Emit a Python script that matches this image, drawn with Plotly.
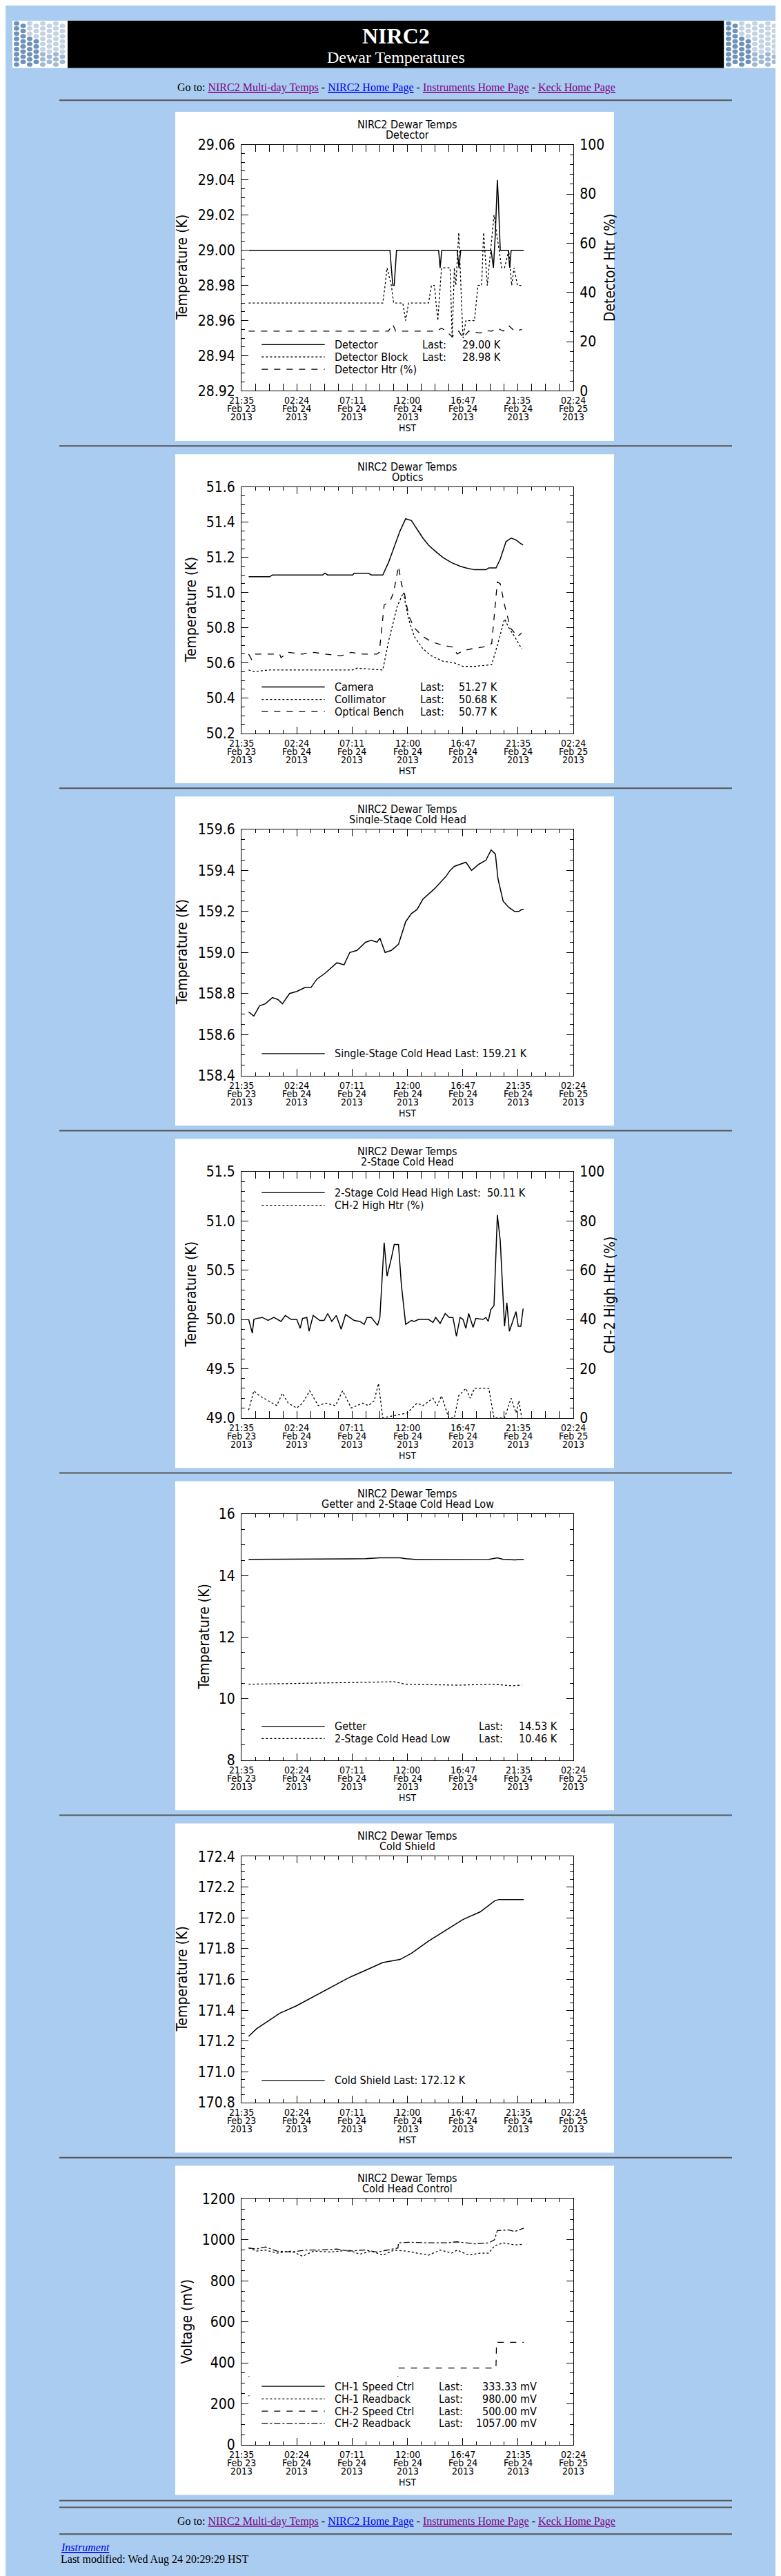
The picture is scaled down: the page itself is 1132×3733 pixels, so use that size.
import plotly.graph_objects as go

W, H = 1132, 3733
BG = "#a9ccf0"
FONT = "Liberation Sans Narrow, DejaVu Sans Condensed, sans-serif"
SERIF = "Liberation Serif, DejaVu Serif, serif"

# ---- time axis (hours since 21:35 Feb 23 2013 HST) ----
x_ticks = [0, 4.7833, 9.5667, 14.35, 19.1333, 23.9167, 28.7]
x_lab1 = ["21:35", "02:24", "07:11", "12:00", "16:47", "21:35", "02:24"]
x_lab2 = ["Feb 23", "Feb 24", "Feb 24", "Feb 24", "Feb 24", "Feb 24", "Feb 25"]
x_lab3 = ["2013"] * 7

# ---- Panel 1: Detector ----
t_det = [0.62,12.59,12.84,12.96,13.09,13.21,13.33,13.41,17.05,17.18,17.32,18.66,18.81,18.96,21.59,21.79,21.96,22.06,22.13,22.21,22.38,23.07,23.20,23.32,24.41]
v_det = [29.00,29.00,29.00,28.99,28.98,28.98,28.99,29.00,29.00,28.99,29.00,29.00,28.99,29.00,29.00,28.99,29.01,29.03,29.04,29.03,29.00,29.00,28.99,29.00,29.00]
t_blk = [0.62,12.22,12.42,12.59,12.96,13.16,13.95,14.20,14.45,16.18,16.43,16.68,16.98,17.30,18.04,18.22,18.41,18.54,18.79,19.16,19.41,20.15,20.45,20.77,20.94,21.26,21.84,22.26,22.50,22.75,23.12,23.37,23.57,23.87,24.24]
v_blk = [28.97,28.97,28.98,28.99,28.98,28.97,28.97,28.96,28.97,28.97,28.98,28.98,28.96,28.99,28.99,28.95,28.99,28.98,29.01,28.95,28.96,28.96,28.98,28.98,29.01,28.98,29.02,29.00,28.99,28.99,29.00,28.98,28.99,28.98,28.98]
t_dhtr = [0.62,12.71,13.09,13.33,16.93,17.30,17.67,18.22,18.79,19.16,19.65,20.65,21.14,21.64,22.13,22.63,23.12,23.62,24.24]
v_dhtr = [24.3,24.3,27,24.3,24.3,25.5,24.3,22,24.3,21.5,24.3,23.5,24.5,24.3,25.5,24.3,26.5,24.3,25]

# ---- Panel 2: Optics ----
t_cam = [0.62,2.43,2.68,7.01,7.21,7.46,9.62,9.74,10.98,11.23,12.22,12.71,13.21,13.71,14.20,14.70,15.19,15.69,16.18,16.68,17.42,18.17,18.91,19.41,20.15,21.14,21.39,22.01,22.38,22.88,23.32,23.74,24.12,24.36]
v_cam = [51.09,51.09,51.10,51.10,51.11,51.10,51.10,51.11,51.11,51.10,51.10,51.17,51.26,51.35,51.42,51.41,51.36,51.31,51.27,51.24,51.20,51.17,51.15,51.14,51.13,51.13,51.14,51.14,51.19,51.29,51.31,51.30,51.28,51.27]
t_col = [0.62,1.07,2.43,4.78,7.26,9.62,9.99,12.22,12.71,13.46,14.00,14.45,14.94,15.69,16.43,17.42,18.41,19.16,20.15,21.64,22.13,22.75,23.12,23.62,24.24]
v_col = [50.56,50.55,50.56,50.56,50.56,50.56,50.57,50.56,50.72,50.92,51.00,50.85,50.75,50.68,50.64,50.61,50.60,50.58,50.58,50.59,50.70,50.85,50.80,50.75,50.68]
t_ben = [0.62,0.87,1.19,3.30,3.42,4.04,5.28,6.27,7.26,8.62,9.49,10.48,11.72,11.92,12.34,12.84,13.16,13.58,13.83,14.08,14.45,14.94,15.69,16.43,17.42,18.29,18.66,19.16,19.90,20.89,21.64,22.13,22.38,22.75,23.25,23.87,24.24]
v_ben = [50.65,50.62,50.65,50.65,50.63,50.66,50.65,50.66,50.65,50.64,50.66,50.65,50.65,50.66,50.93,50.95,51.00,51.15,51.05,51.00,50.87,50.80,50.75,50.72,50.70,50.69,50.65,50.67,50.68,50.69,50.71,51.06,51.05,50.93,50.80,50.75,50.77]

# ---- Panel 3: Single-stage cold head ----
t_ss = [0.62,1.07,1.56,2.06,2.68,3.17,3.54,4.16,4.78,5.53,6.02,6.52,7.26,8.25,8.87,9.37,9.99,10.73,11.23,11.72,11.97,12.42,12.96,13.58,14.20,14.70,15.19,15.69,16.68,17.18,17.67,18.04,18.41,19.41,19.90,20.52,21.14,21.59,21.96,22.18,22.63,23.12,23.62,23.99,24.24,24.41]
v_ss = [158.71,158.69,158.74,158.75,158.78,158.77,158.75,158.80,158.81,158.83,158.83,158.87,158.90,158.95,158.94,159.00,159.01,159.05,159.06,159.05,159.07,159.00,159.01,159.04,159.15,159.19,159.21,159.26,159.31,159.34,159.37,159.40,159.42,159.44,159.40,159.43,159.45,159.50,159.48,159.36,159.25,159.22,159.20,159.20,159.21,159.21]

# ---- Panel 4: 2-stage cold head ----
t_2h = [0.62,0.94,1.07,1.31,1.81,2.30,2.80,3.42,3.79,4.29,4.78,5.08,5.28,5.65,5.85,6.20,6.77,7.14,7.46,7.81,8.20,8.62,9.00,9.37,9.74,10.24,10.61,10.86,11.23,11.77,11.97,12.34,12.59,12.96,13.21,13.58,13.83,14.20,14.70,14.94,15.32,16.18,16.56,16.80,17.18,17.62,17.97,18.29,18.59,18.91,19.16,19.41,19.65,20.03,20.27,20.89,21.14,21.34,21.56,21.84,22.13,22.38,22.75,22.95,23.17,23.74,23.94,24.16,24.36]
v_2h = [50.00,49.86,50.00,50.01,50.02,49.99,50.02,49.98,50.04,50.00,50.00,49.91,50.01,50.02,49.88,50.04,49.99,49.99,50.06,49.98,50.04,49.90,50.05,50.02,49.99,49.98,49.95,50.02,50.02,49.94,50.02,50.78,50.44,50.62,50.76,50.76,50.35,49.95,49.99,49.98,50.00,50.00,49.97,50.02,49.96,50.06,50.02,50.02,49.83,50.02,50.00,49.91,50.06,49.92,50.01,50.00,50.02,49.98,50.10,50.14,51.06,50.80,49.93,50.17,49.88,50.08,49.93,49.93,50.11]
t_2htr = [0.62,1.07,1.56,2.30,3.05,3.54,4.04,4.78,5.28,5.90,6.64,7.26,8.13,8.75,9.49,10.48,10.98,11.48,11.85,12.22,14.33,15.19,15.69,16.56,16.93,17.30,17.92,18.41,18.79,19.41,19.78,20.15,21.39,21.84,22.75,23.32,23.74,23.99,24.24]
v_2htr = [3.2,11,9,7,5,10,6,4,6,11,5,6,5,11,4,6,5,7,14,0,2,6,5,8,5,9,0,0,9,12,8,12,12,0,0,8,2,7,0]

# ---- Panel 5: Getter and 2-stage low ----
t_get = [0.62,6.27,10.73,11.97,13.71,14.20,15.19,21.39,22.13,22.63,23.62,24.41]
v_get = [14.53,14.54,14.55,14.58,14.58,14.55,14.52,14.53,14.58,14.53,14.51,14.53]
t_low = [0.62,5.28,8.75,13.21,14.20,18.66,21.88,23.37,24.24]
v_low = [10.47,10.50,10.51,10.55,10.47,10.44,10.47,10.42,10.44]

# ---- Panel 6: Cold shield ----
t_cs = [0.62,1.31,2.30,3.30,4.78,6.27,7.76,9.24,10.73,12.22,13.71,14.70,16.18,17.67,19.16,20.65,21.88,22.26,24.41]
v_cs = [171.23,171.28,171.33,171.38,171.43,171.49,171.55,171.61,171.66,171.71,171.73,171.77,171.85,171.92,171.99,172.04,172.11,172.12,172.12]

# ---- Panel 7: Cold head control ----
t_c1s = [0.62,0.68,None,0.62,0.68,None,13.50,13.56]
v_c1s = [333,333,None,240,240,None,333,333]
t_c1r = [0.62,1.31,2.06,3.05,4.29,5.28,6.27,7.76,9.24,10.24,11.23,12.22,13.21,14.20,15.19,16.18,17.18,18.17,18.66,19.65,20.65,21.39,21.88,22.63,23.62,24.41]
v_c1r = [960,945,950,935,945,920,945,940,950,930,945,925,950,945,935,925,950,935,950,925,935,935,970,985,975,978]
t_c2s = [13.58,22.01,22.06,24.41]
v_c2s = [375,375,500,500]
t_c2r = [0.62,1.31,2.06,3.05,4.29,5.53,6.77,8.25,9.24,10.73,11.72,12.71,13.53,13.58,14.45,16.18,17.67,18.66,20.15,21.39,21.88,22.13,23.12,23.62,24.41]
v_c2r = [960,955,965,945,940,950,950,955,945,950,940,950,960,985,988,985,985,990,980,985,1000,1045,1048,1040,1057]

panels = [
    dict(sub="Detector", yr=[28.92, 29.06], dt=0.02, mdt=0.005, fmt=".2f", ytitle="Temperature (K)", ytx=256,
         y2=dict(r=[0, 100], dt=20, mdt=4, title="Detector Htr (%)"),
         series=[(t_det, v_det, "solid", 1), (t_blk, v_blk, "dot", 1), (t_dhtr, v_dhtr, "dash", 2)],
         legend=[("solid", "Detector", "Last:", "29.00 K", 0.188), ("dot", "Detector Block", "Last:", "28.98 K", 0.138),
                 ("dash", "Detector Htr (%)", "", "", 0.088)], lastx=0.541, valx=0.662),
    dict(sub="Optics", yr=[50.2, 51.6], dt=0.2, mdt=0.05, fmt=".1f", ytitle="Temperature (K)", ytx=269,
         series=[(t_cam, v_cam, "solid", 1), (t_col, v_col, "dot", 1), (t_ben, v_ben, "dash", 1)],
         legend=[("solid", "Camera", "Last:", "51.27 K", 0.188), ("dot", "Collimator", "Last:", "50.68 K", 0.137),
                 ("dash", "Optical Bench", "Last:", "50.77 K", 0.088)], lastx=0.535, valx=0.650),
    dict(sub="Single-Stage Cold Head", yr=[158.4, 159.6], dt=0.2, mdt=0.05, fmt=".1f", ytitle="Temperature (K)", ytx=256,
         series=[(t_ss, v_ss, "solid", 1)],
         legend=[("solid", "Single-Stage Cold Head Last: 159.21 K", "", "", 0.089)], lastx=0.54, valx=0.66),
    dict(sub="2-Stage Cold Head", yr=[49.0, 51.5], dt=0.5, mdt=0.1, fmt=".1f", ytitle="Temperature (K)", ytx=269,
         y2=dict(r=[0, 100], dt=20, mdt=4, title="CH-2 High Htr (%)"),
         series=[(t_2h, v_2h, "solid", 1), (t_2htr, v_2htr, "dot", 2)],
         legend=[("solid", "2-Stage Cold Head High Last:  50.11 K", "", "", 0.915), ("dot", "CH-2 High Htr (%)", "", "", 0.864)],
         lastx=0.54, valx=0.66),
    dict(sub="Getter and 2-Stage Cold Head Low", yr=[8, 16], dt=2, mdt=0.5, fmt="d", ytitle="Temperature (K)", ytx=288,
         series=[(t_get, v_get, "solid", 1), (t_low, v_low, "dot", 1)],
         legend=[("solid", "Getter", "Last:", "14.53 K", 0.138), ("dot", "2-Stage Cold Head Low", "Last:", "10.46 K", 0.088)],
         lastx=0.711, valx=0.832),
    dict(sub="Cold Shield", yr=[170.8, 172.4], dt=0.2, mdt=0.05, fmt=".1f", ytitle="Temperature (K)", ytx=256,
         series=[(t_cs, v_cs, "solid", 1)],
         legend=[("solid", "Cold Shield Last: 172.12 K", "", "", 0.09)], lastx=0.54, valx=0.66),
    dict(sub="Cold Head Control", yr=[0, 1200], dt=200, mdt=50, fmt="d", ytitle="Voltage (mV)", ytx=263,
         series=[(t_c1s, v_c1s, "solid", 1), (t_c1r, v_c1r, "dot", 1), (t_c2s, v_c2s, "dash", 1), (t_c2r, v_c2r, "dashdot", 1)],
         legend=[("solid", "CH-1 Speed Ctrl", "Last:", "333.33 mV", 0.238), ("dot", "CH-1 Readback", "Last:", "980.00 mV", 0.187),
                 ("dash", "CH-2 Speed Ctrl", "Last:", "500.00 mV", 0.137), ("dashdot", "CH-2 Readback", "Last:", "1057.00 mV", 0.087)],
         lastx=0.591, valx=0.895, valright=True),
]

fig = go.Figure()
shapes, annos = [], []
lay = dict(width=W, height=H, margin=dict(l=0, r=0, t=0, b=0), paper_bgcolor=BG, plot_bgcolor="white",
           showlegend=False, font=dict(family=FONT, color="black"))

def py(px):
    return 1 - px / H

XL, XR = 342, 823
PTOP0, PSTEP = 143, 499.3
LF = 16
extra = 8
for i, p in enumerate(panels):
    n = i + 1
    top = PTOP0 + PSTEP * i
    shapes.append(dict(type="rect", xref="paper", yref="paper", x0=246 / W, x1=882 / W, y0=py(top + 480), y1=py(top),
                       fillcolor="white", line=dict(width=0), layer="below"))
    if i > 0:
        shapes.append(dict(type="line", xref="paper", yref="paper", x0=78 / W, x1=1053 / W, y0=py(top - 12), y1=py(top - 12),
                           line=dict(color="#555", width=2)))
    xa = "xaxis" if n == 1 else f"xaxis{n}"
    ya = "yaxis" if n == 1 else f"yaxis{n}"
    xr = "x" if n == 1 else f"x{n}"
    yr = "y" if n == 1 else f"y{n}"
    has2 = "y2" in p
    lay[xa] = dict(domain=[XL / W, XR / W], range=[0, 28.7], anchor=yr, tickvals=x_ticks, showticklabels=False,
                   ticks="inside", ticklen=10, tickcolor="black", showgrid=False, zeroline=False,
                   showline=True, linecolor="black", linewidth=1, mirror="allticks",
                   minor=dict(dtick=1.19583, tick0=0, ticks="inside", ticklen=5, tickcolor="black", showgrid=False))
    lay[ya] = dict(domain=[py(top + 407), py(top + 48)], range=p["yr"], anchor=xr, dtick=p["dt"], tick0=p["yr"][0],
                   tickformat=p["fmt"], ticks="inside", ticklen=10, tickcolor="black", showgrid=False, zeroline=False,
                   showline=True, linecolor="black", linewidth=1, mirror=False if has2 else "allticks",
                   tickfont=dict(size=21, family=FONT), ticklabelstandoff=4,
                   minor=dict(dtick=p["mdt"], tick0=p["yr"][0], ticks="inside", ticklen=5, tickcolor="black", showgrid=False))
    y2r = None
    if has2:
        k = extra
        extra += 1
        y2r = f"y{k}"
        lay[f"yaxis{k}"] = dict(overlaying=yr, side="right", anchor=xr, range=p["y2"]["r"], dtick=p["y2"]["dt"], tick0=0,
                               tickformat="d", ticks="inside", ticklen=10, tickcolor="black", showgrid=False, zeroline=False,
                               showline=True, linecolor="black", linewidth=1, tickfont=dict(size=21, family=FONT),
                               ticklabelstandoff=4,
                               minor=dict(dtick=p["y2"]["mdt"], tick0=0, ticks="inside", ticklen=5, tickcolor="black"))
        annos.append(dict(xref="paper", yref=f"{yr} domain", x=876 / W, y=0.5, text=p["y2"]["title"], textangle=-90,
                          showarrow=False, font=dict(size=21, family=FONT), xanchor="center", yanchor="middle"))
    for (t, v, dash, ax) in p["series"]:
        fig.add_trace(go.Scatter(x=t, y=v, mode="lines", line=dict(color="black", width=1.5 if dash == "solid" else 1.3, dash=dash),
                                 xaxis=xr, yaxis=(yr if ax == 1 else y2r), connectgaps=False, hoverinfo="skip"))
    annos.append(dict(xref=f"{xr} domain", yref=f"{yr} domain", x=0.5, y=1, yshift=30, text="NIRC2 Dewar Temps",
                      showarrow=False, font=dict(size=16), yanchor="middle", height=14))
    annos.append(dict(xref=f"{xr} domain", yref=f"{yr} domain", x=0.5, y=1, yshift=15, text=p["sub"],
                      showarrow=False, font=dict(size=16), yanchor="middle", height=14))
    annos.append(dict(xref="paper", yref=f"{yr} domain", x=p["ytx"] / W, y=0.5, text=p["ytitle"], textangle=-90,
                      showarrow=False, font=dict(size=21), xanchor="center", yanchor="middle"))
    for xt, a, b, c in zip(x_ticks, x_lab1, x_lab2, x_lab3):
        for s, txt in zip([-14, -26, -38], [a, b, c]):
            annos.append(dict(xref=xr, yref=f"{yr} domain", x=xt, y=0, yshift=s, text=txt, showarrow=False,
                              font=dict(size=14), yanchor="middle", height=12))
    annos.append(dict(xref=xr, yref=f"{yr} domain", x=14.35, y=0, yshift=-54, text="HST", showarrow=False,
                      font=dict(size=14), yanchor="middle", height=12))
    for dash, lab, last, val, yy in p["legend"]:
        shapes.append(dict(type="line", xref=f"{xr} domain", yref=f"{yr} domain", x0=0.061, x1=0.251, y0=yy, y1=yy,
                           line=dict(color="black", width=1.3, dash=dash)))
        annos.append(dict(xref=f"{xr} domain", yref=f"{yr} domain", x=0.276, y=yy, text=lab, showarrow=False,
                          xanchor="left", yanchor="middle", font=dict(size=LF)))
        if last:
            annos.append(dict(xref=f"{xr} domain", yref=f"{yr} domain", x=p["lastx"], y=yy, text=last, showarrow=False,
                              xanchor="left", yanchor="middle", font=dict(size=LF)))
            annos.append(dict(xref=f"{xr} domain", yref=f"{yr} domain", x=p["valx"], y=yy, text=val, showarrow=False,
                              xanchor="right" if p.get("valright") else "left", yanchor="middle", font=dict(size=LF)))

# header
shapes.append(dict(type="rect", xref="paper", yref="paper", x0=90 / W, x1=1041 / W, y0=py(79), y1=py(10),
                   fillcolor="black", line=dict(width=0)))
for x0 in (10, 1042):
    shapes.append(dict(type="rect", xref="paper", yref="paper", x0=x0 / W, x1=(x0 + 80) / W, y0=py(79), y1=py(10),
                       fillcolor="white", line=dict(width=0)))
    for col in range(8):
        for row in range(9):
            cx = x0 + 6 + col * 9.5
            cy = 14 + row * 7.5 + (3.7 if col % 2 else 0)
            if cy > 76:
                continue
            dark = (col < 4 and row > 2) or (col < 2)
            colr = "#6f93b8" if dark else "#c3d3e4"
            if col >= 4 and row > 5:
                colr = "#9fb8d3"
            shapes.append(dict(type="circle", xref="paper", yref="paper", x0=(cx - 4) / W, x1=(cx + 4) / W,
                               y0=py(cy + 3.3), y1=py(cy - 3.3), fillcolor=colr, line=dict(width=0)))
annos.append(dict(xref="paper", yref="paper", x=0.5, y=py(32), text="<b>NIRC2</b>", showarrow=False,
                  font=dict(size=32, family=SERIF, color="white"), yanchor="middle"))
annos.append(dict(xref="paper", yref="paper", x=0.5, y=py(63), text="Dewar Temperatures", showarrow=False,
                  font=dict(size=24, family=SERIF, color="white"), yanchor="middle"))

goto = ("Go to: <span style='color:#800080'><u>NIRC2 Multi-day Temps</u></span> - "
        "<span style='color:#0000ee'><u>NIRC2 Home Page</u></span> - "
        "<span style='color:#800080'><u>Instruments Home Page</u></span> - "
        "<span style='color:#800080'><u>Keck Home Page</u></span>")
for yy in (108, 3658):
    annos.append(dict(xref="paper", yref="paper", x=566 / W, y=py(yy), text=goto, showarrow=False,
                      font=dict(size=16, family=SERIF, color="black"), yanchor="middle"))
for yy in (126, 3627, 3637, 3676):
    shapes.append(dict(type="line", xref="paper", yref="paper", x0=78 / W, x1=1053 / W, y0=py(yy), y1=py(yy),
                       line=dict(color="#555", width=2)))
annos.append(dict(xref="paper", yref="paper", x=78 / W, y=py(3695), text="<i><u>Instrument</u></i>", showarrow=False,
                  xanchor="left", yanchor="middle", font=dict(size=16, family=SERIF, color="#0000ee")))
annos.append(dict(xref="paper", yref="paper", x=78 / W, y=py(3713), text="Last modified: Wed Aug 24 20:29:29 HST",
                  showarrow=False, xanchor="left", yanchor="middle", font=dict(size=16, family=SERIF, color="black")))

lay["shapes"] = shapes
lay["annotations"] = annos
fig.update_layout(**lay)
fig.write_html("out.html")
